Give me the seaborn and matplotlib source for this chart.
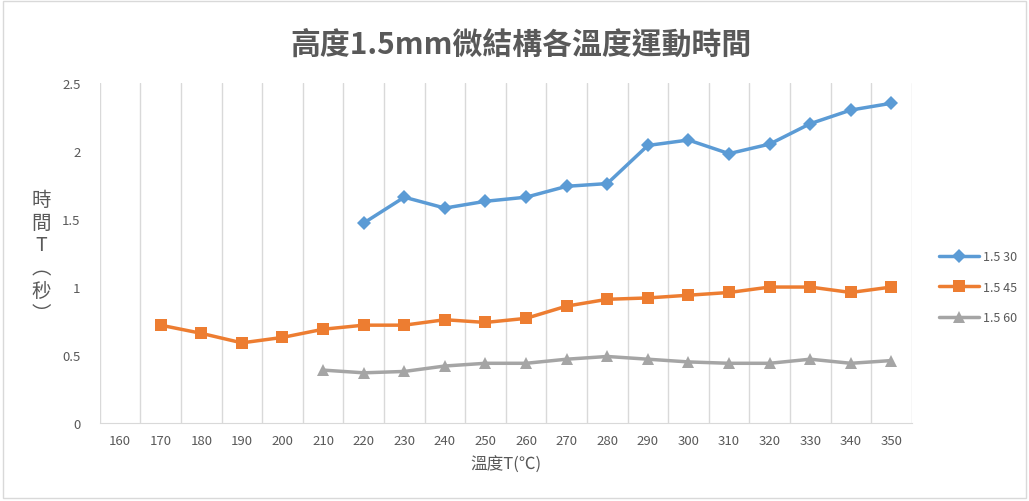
import numpy as np
import pandas as pd
import seaborn as sns
import matplotlib.pyplot as plt
from matplotlib.patches import Rectangle

# --- data ---
temps_30 = [220, 230, 240, 250, 260, 270, 280, 290, 300, 310, 320, 330, 340, 350]
time_30 = [1.47, 1.66, 1.58, 1.63, 1.66, 1.74, 1.76, 2.04, 2.08, 1.98, 2.05, 2.20, 2.30, 2.35]

temps_45 = [170, 180, 190, 200, 210, 220, 230, 240, 250, 260, 270, 280, 290, 300, 310, 320, 330, 340, 350]
time_45 = [0.72, 0.66, 0.59, 0.63, 0.69, 0.72, 0.72, 0.76, 0.74, 0.77, 0.86, 0.91, 0.92, 0.94, 0.96, 1.00, 1.00, 0.96, 1.00]

temps_60 = [210, 220, 230, 240, 250, 260, 270, 280, 290, 300, 310, 320, 330, 340, 350]
time_60 = [0.39, 0.37, 0.38, 0.42, 0.44, 0.44, 0.47, 0.49, 0.47, 0.45, 0.44, 0.44, 0.47, 0.44, 0.46]

x_ticks = list(range(160, 360, 10))
y_ticks = [0, 0.5, 1, 1.5, 2, 2.5]
y_tick_labels = ["0", "0.5", "1", "1.5", "2", "2.5"]

series = [
    ("1.5 30", temps_30, time_30, "#5B9BD5", "D", 7),
    ("1.5 45", temps_45, time_45, "#ED7D31", "s", 8),
    ("1.5 60", temps_60, time_60, "#A5A5A5", "^", 8),
]

sns.set_style("white")
plt.rcParams["font.family"] = ["Noto Sans CJK TC", "DejaVu Sans"]
TXT = "#595959"

fig = plt.figure(figsize=(10.29, 5.02), dpi=100)
ax = fig.add_axes([0.097, 0.155, 0.789, 0.678])

for label, xs, ys, color, marker, ms in series:
    df = pd.DataFrame({"temp": xs, "time": ys})
    sns.lineplot(data=df, x="temp", y="time", ax=ax, color=color, linewidth=2.5,
                 marker=marker, markersize=ms, markeredgewidth=0, label=label)

ax.set_xlim(155, 355)
ax.set_ylim(0, 2.5)
ax.set_xticks(x_ticks)
ax.set_xticklabels([str(t) for t in x_ticks], fontsize=9.5, color=TXT)
ax.set_xticks(np.arange(155, 356, 10), minor=True)
ax.set_yticks(y_ticks)
ax.set_yticklabels(y_tick_labels, fontsize=9.5, color=TXT)
ax.tick_params(axis="both", which="both", length=0)
ax.tick_params(axis="x", pad=8)
ax.tick_params(axis="y", pad=14)
ax.grid(axis="x", which="minor", color="#D9D9D9", linewidth=1)
ax.grid(axis="x", which="major", visible=False)
ax.grid(axis="y", visible=False)
for s in ["top", "right", "left"]:
    ax.spines[s].set_visible(False)
ax.spines["bottom"].set_color("#D9D9D9")

ax.set_xlabel("溫度T(℃)", fontsize=12, color=TXT, labelpad=6)
ax.set_ylabel("時\n間\nT\n︵\n秒\n︶", fontsize=14, color=TXT, rotation=0,
              va="center", ha="center", linespacing=1.12)
ax.yaxis.set_label_coords(-0.072, 0.49)

fig.text(0.506, 0.91, "高度1.5mm微結構各溫度運動時間", ha="center", va="center",
         fontsize=21.5, fontweight="bold", color=TXT)

leg = ax.legend(loc="center left", bbox_to_anchor=(1.02, 0.4), frameon=False,
                fontsize=9, labelcolor=TXT, handlelength=3.2, labelspacing=1.4,
                handletextpad=0.3)

fig.patches.append(Rectangle((0.003, 0.006), 0.994, 0.99, transform=fig.transFigure,
                             fill=False, edgecolor="#D9D9D9", linewidth=1))

fig.savefig("out.png", dpi=100)
